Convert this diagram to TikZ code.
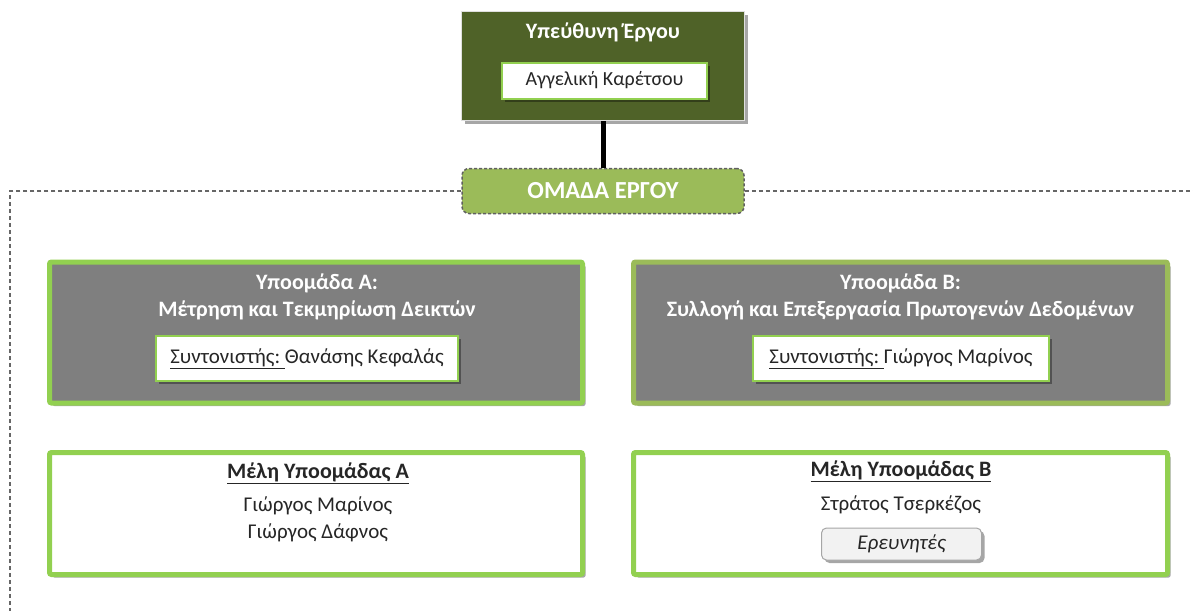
\documentclass[tikz,border=0pt]{standalone}
\usepackage{fontspec}
\setmainfont{Carlito}
\usetikzlibrary{shadows}

\definecolor{oliveDark}{HTML}{4F6228}
\definecolor{greenLight}{HTML}{92D050}
\definecolor{greenOlive}{HTML}{9BBB59}
\definecolor{boxGray}{HTML}{7F7F7F}
\definecolor{textDark}{HTML}{262626}

\tikzset{
  softshadow/.style={drop shadow={shadow xshift=3pt, shadow yshift=-3pt, opacity=0.35, fill=black}},
  leadbox/.style={draw=gray!25, line width=1.5pt, fill=oliveDark, softshadow, inner sep=0pt},
  namebox/.style={draw=greenLight, line width=2pt, fill=white, softshadow, inner sep=0pt,
    text=textDark, font=\fontsize{21}{25}\selectfont},
  teambox/.style={rounded corners=7pt, fill=greenOlive, draw=gray!75!black,
    dash pattern=on 3pt off 2pt, line width=1.5pt, text=white,
    font=\bfseries\fontsize{24.5}{28}\selectfont, inner sep=0pt},
  subbox/.style={fill=boxGray, draw=greenLight, line width=5pt, rounded corners=2pt, softshadow, inner sep=0pt},
  membox/.style={fill=white, draw=greenLight, line width=5pt, rounded corners=2pt, softshadow, inner sep=0pt},
  roundbtn/.style={fill=gray!10, draw=gray!70, line width=1pt, rounded corners=5pt, softshadow, inner sep=0pt,
    text=textDark, font=\itshape\fontsize{21}{25}\selectfont},
  titletext/.style={text=white, align=center, font=\bfseries\fontsize{22}{27}\selectfont},
  bodytext/.style={text=textDark, align=center, font=\fontsize{21}{27}\selectfont},
  boldtext/.style={bodytext, font=\bfseries\fontsize{22}{27}\selectfont},
  frameline/.style={draw=gray!80!black, line width=1.3pt, dash pattern=on 4pt off 3pt},
}

\begin{document}
\begin{tikzpicture}[x=1pt,y=-1pt]
\useasboundingbox (0,0) rectangle (1193,611);

% head of project
\node[leadbox, minimum width=283pt, minimum height=109pt] (lead) at (603,66) {};
\node[titletext] (leadtitle) at (603,32) {Υπεύθυνη Έργου};
\node[namebox, font=\fontsize{20}{24}\selectfont, minimum width=205pt, minimum height=36pt] (leadname)
  at (604.5,80.5) {Αγγελική Καρέτσου};

% project team
\node[teambox, minimum width=282pt, minimum height=45pt] (team) at (603,191) {ΟΜΑΔΑ ΕΡΓΟΥ};
\draw[line width=5pt] (lead.south) -- (team.north);

\coordinate (frameL) at (10,191);
\coordinate (frameB) at (10,611);
\coordinate (frameR) at (1193,191);
\draw[frameline] (team.west) -- (frameL) -- (frameB);
\draw[frameline] (team.east) -- (frameR);

% subgroup A
\node[subbox, minimum width=533pt, minimum height=141pt] (subA) at (316,332.5) {};
\node[titletext] (subAtitle) at (317,297) {Υποομάδα Α:\\Μέτρηση και Τεκμηρίωση Δεικτών};
\node[namebox, minimum width=302pt, minimum height=45pt] (coordA) at (307,358.5)
  {\underline{Συντονιστής:\ }Θανάσης Κεφαλάς};

% subgroup B
\node[subbox, draw=greenOlive, minimum width=534pt, minimum height=141pt] (subB) at (900.5,332.5) {};
\node[titletext] (subBtitle) at (900.5,297) {Υποομάδα Β:\\Συλλογή και Επεξεργασία Πρωτογενών Δεδομένων};
\node[namebox, minimum width=296pt, minimum height=45pt] (coordB) at (901,358.5)
  {\underline{Συντονιστής:\ }Γιώργος Μαρίνος};

% members A
\node[membox, minimum width=533pt, minimum height=122pt] (memA) at (316,513.5) {};
\node[boldtext] (memAtitle) at (318,473) {\underline{Μέλη Υποομάδας Α}};
\node[bodytext] (memAnames) at (318,519) {Γιώργος Μαρίνος\\Γιώργος Δάφνος};

% members B
\node[membox, minimum width=534pt, minimum height=122pt] (memB) at (900.5,513.5) {};
\node[boldtext] (memBtitle) at (901,471) {\underline{Μέλη Υποομάδας Β}};
\node[bodytext] (memBnames) at (901,505) {Στράτος Τσερκέζος};
\node[roundbtn, minimum width=160pt, minimum height=32pt] (btnB) at (901.5,544) {Ερευνητές};

\end{tikzpicture}
\end{document}
